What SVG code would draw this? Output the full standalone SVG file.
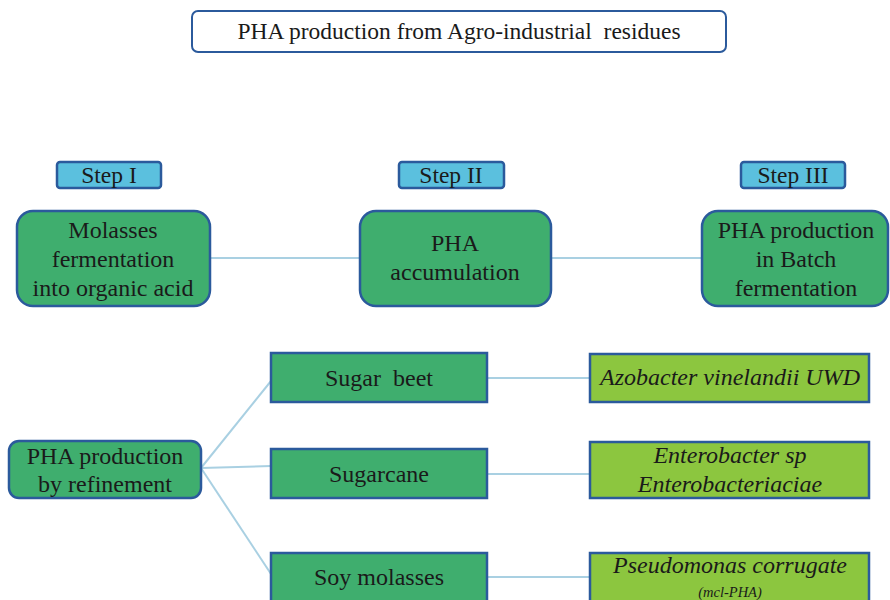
<svg xmlns="http://www.w3.org/2000/svg" width="890" height="600" viewBox="0 0 890 600">
<style>
text{fill:#1a1a1a;text-anchor:middle}
.main{fill:#3fae6e;stroke:#2b5a9c;stroke-width:2.5}
.step{fill:#5bc0de;stroke:#2b5a9c;stroke-width:2.5}
.lg{fill:#8cc63f;stroke:#2b5a9c;stroke-width:2.5}
.conn{stroke:#a9d0e2;stroke-width:2;fill:none}
</style>
<rect width="890" height="600" fill="#ffffff"/>
<g id="connectors">
<line class="conn" x1="210" y1="258" x2="360" y2="258"/>
<line class="conn" x1="551" y1="258" x2="702" y2="258"/>
<line class="conn" x1="201" y1="468" x2="271" y2="381"/>
<line class="conn" x1="201" y1="468" x2="271" y2="466"/>
<line class="conn" x1="201" y1="468" x2="271" y2="574"/>
<line class="conn" x1="487" y1="378" x2="590" y2="378"/>
<line class="conn" x1="487" y1="474" x2="590" y2="474"/>
<line class="conn" x1="487" y1="577" x2="590" y2="577"/>
</g>
<g id="title">
<rect x="192" y="11" width="534" height="41" rx="6" fill="#ffffff" stroke="#2b5a9c" stroke-width="2"/>
<text x="459" y="39" font-family="Liberation Serif, serif" font-size="23.5">PHA production from Agro-industrial&#160; residues</text>
</g>
<g id="step1"><rect class="step" x="57" y="162" width="104" height="26" rx="3"/><text font-family="Liberation Serif, serif" font-size="23.5" x="109" y="183">Step I</text></g>
<g id="step2"><rect class="step" x="399" y="162" width="105" height="26" rx="3"/><text font-family="Liberation Serif, serif" font-size="23.5" x="451" y="183">Step II</text></g>
<g id="step3"><rect class="step" x="741" y="162" width="104" height="26" rx="3"/><text font-family="Liberation Serif, serif" font-size="23.5" x="793" y="183">Step III</text></g>
<g id="molasses">
<rect class="main" x="17" y="211" width="193" height="95" rx="16"/>
<text font-family="Liberation Serif, serif" font-size="24" x="113" y="238">Molasses</text>
<text font-family="Liberation Serif, serif" font-size="24" x="113" y="267">fermentation</text>
<text font-family="Liberation Serif, serif" font-size="24" x="113" y="296">into organic acid</text>
</g>
<g id="accumulation">
<rect class="main" x="360" y="211" width="191" height="95" rx="16"/>
<text font-family="Liberation Serif, serif" font-size="24" x="455" y="251">PHA</text>
<text font-family="Liberation Serif, serif" font-size="24" x="455" y="280">accumulation</text>
</g>
<g id="batch">
<rect class="main" x="702" y="211" width="186" height="95" rx="16"/>
<text font-family="Liberation Serif, serif" font-size="24" x="796" y="238">PHA production</text>
<text font-family="Liberation Serif, serif" font-size="24" x="796" y="267">in Batch</text>
<text font-family="Liberation Serif, serif" font-size="24" x="796" y="296">fermentation</text>
</g>
<g id="refinement">
<rect class="main" x="9" y="441" width="192" height="57" rx="10"/>
<text font-family="Liberation Serif, serif" font-size="24" x="105" y="464">PHA production</text>
<text font-family="Liberation Serif, serif" font-size="24" x="105" y="492">by refinement</text>
</g>
<g id="sugarbeet"><rect class="main" x="271" y="353" width="216" height="49"/><text font-family="Liberation Serif, serif" font-size="24" x="379" y="386">Sugar&#160; beet</text></g>
<g id="sugarcane"><rect class="main" x="271" y="449" width="216" height="49"/><text font-family="Liberation Serif, serif" font-size="24" x="379" y="482">Sugarcane</text></g>
<g id="soy"><rect class="main" x="271" y="553" width="216" height="52"/><text font-family="Liberation Serif, serif" font-size="24" x="379" y="585">Soy molasses</text></g>
<g id="azobacter"><rect class="lg" x="590" y="354" width="279" height="48"/><text font-family="Liberation Serif, serif" font-style="italic" font-size="24" x="730" y="385">Azobacter vinelandii UWD</text></g>
<g id="enterobacter"><rect class="lg" x="590" y="442" width="279" height="56"/><text font-family="Liberation Serif, serif" font-style="italic" font-size="24" x="730" y="463">Enterobacter sp</text><text font-family="Liberation Serif, serif" font-style="italic" font-size="24" x="730" y="492">Enterobacteriaciae</text></g>
<g id="pseudomonas"><rect class="lg" x="590" y="553" width="279" height="52"/><text font-family="Liberation Serif, serif" font-style="italic" font-size="24" x="730" y="573">Pseudomonas corrugate</text><text font-family="Liberation Serif, serif" x="730" y="597" font-style="italic" font-size="14.5">(mcl-PHA)</text></g>
</svg>
